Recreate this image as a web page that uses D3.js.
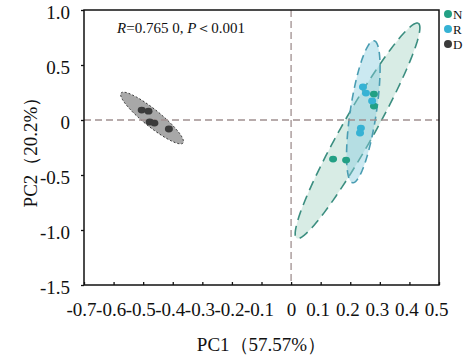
<!DOCTYPE html>
<html><head><meta charset="utf-8">
<script src="https://cdn.jsdelivr.net/npm/d3@7"></script>
<style>
html,body{margin:0;padding:0;background:#fff;}
svg{display:block;font-family:"Liberation Serif","Times New Roman",serif;}
</style></head>
<body><svg id="c" width="469" height="357"></svg>
<script>
// ---- data ----
const groups = ["N", "R", "D"];
const groupColors = ["#22a084", "#36b2d4", "#3b3b3b"];
const pointsN = [[0.280, 0.236], [0.280, 0.127], [0.142, -0.355], [0.186, -0.364]];
const pointsR = [[0.243, 0.300], [0.253, 0.245], [0.274, 0.173], [0.236, -0.073], [0.233, -0.118]];
const pointsD = [[-0.505, 0.090], [-0.482, 0.080], [-0.478, -0.018], [-0.462, -0.028], [-0.413, -0.082]];
// ellipse: centre, semi-axis vector a, conjugate semi-axis vector b (data units)
const ellipseN = {c: [0.2246, -0.098], a: [0.2055, 0.977], b: [0.047, -0.0718]};
const ellipseR = {c: [0.2442, 0.0755], a: [0.0362, 0.6455], b: [0.0436, -0.0176]};
const ellipseD = {c: [-0.470, 0.018], a: [0.1048, -0.2273], b: [-0.0180, -0.060]};
const xTicks = [-0.7, -0.6, -0.5, -0.4, -0.3, -0.2, -0.1, 0, 0.1, 0.2, 0.3, 0.4, 0.5];
const xTickLabels = ["-0.7", "-0.6", "-0.5", "-0.4", "-0.3", "-0.2", "-0.1", "0", "0.1", "0.2", "0.3", "0.4", "0.5"];
const yTicks = [-1.5, -1.0, -0.5, 0, 0.5, 1.0];
const yTickLabels = ["-1.5", "-1.0", "-0.5", "0", "0.5", "1.0"];
const xTitle = "PC1（57.57%）";
const yTitle = "PC2（20.2%）";

// ---- layout ----
const svg = d3.select("#c");
const L = 84, R = 439, T = 10, B = 285;
const x = d3.scaleLinear().domain([-0.7, 0.5]).range([L, R]);
const y = d3.scaleLinear().domain([-1.5, 1.0]).range([B, T]);

function ellPath(e) {
  const ts = d3.range(0, 121).map(i => i / 120 * 2 * Math.PI);
  return d3.line()
    .x(t => x(e.c[0] + e.a[0] * Math.cos(t) + e.b[0] * Math.sin(t)))
    .y(t => y(e.c[1] + e.a[1] * Math.cos(t) + e.b[1] * Math.sin(t)))(ts) + "Z";
}

// ellipses
svg.append("path").attr("d", ellPath(ellipseN))
  .attr("fill", "#b8dcd0").attr("fill-opacity", 0.55)
  .attr("stroke", "#3b8e80").attr("stroke-width", 1.6).attr("stroke-dasharray", "10,6");
svg.append("path").attr("d", ellPath(ellipseR))
  .attr("fill", "#8ccfe0").attr("fill-opacity", 0.45)
  .attr("stroke", "#4a9db2").attr("stroke-width", 1.6).attr("stroke-dasharray", "8,5");
svg.append("path").attr("d", ellPath(ellipseD))
  .attr("fill", "#a8a8a8")
  .attr("stroke", "#333").attr("stroke-width", 1).attr("stroke-dasharray", "2,2");

// reference lines
svg.append("line").attr("x1", L).attr("x2", R).attr("y1", y(0)).attr("y2", y(0))
  .attr("stroke", "#a09090").attr("stroke-width", 1.3).attr("stroke-dasharray", "7,4");
svg.append("line").attr("x1", x(0)).attr("x2", x(0)).attr("y1", T).attr("y2", B)
  .attr("stroke", "#a09090").attr("stroke-width", 1.3).attr("stroke-dasharray", "7,4");

// points
[pointsN, pointsR, pointsD].forEach((pts, i) => {
  svg.append("g").selectAll("ellipse").data(pts).join("ellipse")
    .attr("cx", d => x(d[0])).attr("cy", d => y(d[1]))
    .attr("rx", 4).attr("ry", 3.4)
    .attr("fill", groupColors[i]);
});

// frame
svg.append("rect").attr("x", L).attr("y", T).attr("width", R - L).attr("height", B - T)
  .attr("fill", "none").attr("stroke", "#111").attr("stroke-width", 1.5);

// axes
const xAxis = d3.axisBottom(x).tickValues(xTicks).tickSize(-3)
  .tickFormat((d, i) => xTickLabels[i]);
const gx = svg.append("g").attr("transform", `translate(0,${B})`).call(xAxis);
gx.select(".domain").remove();
gx.selectAll(".tick line").attr("stroke", "#111").attr("stroke-width", 1.3);
gx.selectAll(".tick text").attr("font-size", 19).attr("fill", "#111")
  .attr("font-family", "Liberation Serif").attr("y", 18)
  .attr("dx", d => d === 0 ? 0 : -3);

const yAxis = d3.axisLeft(y).tickValues(yTicks).tickSize(3).tickPadding(11)
  .tickFormat((d, i) => yTickLabels[i]);
const gy = svg.append("g").attr("transform", `translate(${L},0)`).call(yAxis);
gy.select(".domain").remove();
gy.selectAll(".tick line").attr("stroke", "#111").attr("stroke-width", 1.3);
gy.selectAll(".tick text").attr("font-size", 19).attr("fill", "#111")
  .attr("font-family", "Liberation Serif").attr("dy", "0.45em");

// titles
svg.append("text").attr("x", (L + R) / 2).attr("y", 351).attr("text-anchor", "middle")
  .attr("font-size", 19).attr("fill", "#111").text(xTitle);
svg.append("text").attr("transform", `translate(37,${(T + B) / 2}) rotate(-90)`)
  .attr("text-anchor", "middle").attr("font-size", 19).attr("fill", "#111").text(yTitle);

// annotation
const ann = svg.append("text").attr("x", 117).attr("y", 33).attr("font-size", 15).attr("fill", "#111");
ann.append("tspan").attr("font-style", "italic").text("R");
ann.append("tspan").text("=0.765 0, ");
ann.append("tspan").attr("font-style", "italic").text("P");
ann.append("tspan").text("＜0.001");

// legend
const lg = svg.append("g");
groups.forEach((g, i) => {
  lg.append("circle").attr("cx", 448).attr("cy", 14 + i * 15).attr("r", 4).attr("fill", groupColors[i]);
  lg.append("text").attr("x", 453).attr("y", 18.5 + i * 15).attr("font-size", 13).attr("fill", "#111").text(g);
});
</script></body></html>
